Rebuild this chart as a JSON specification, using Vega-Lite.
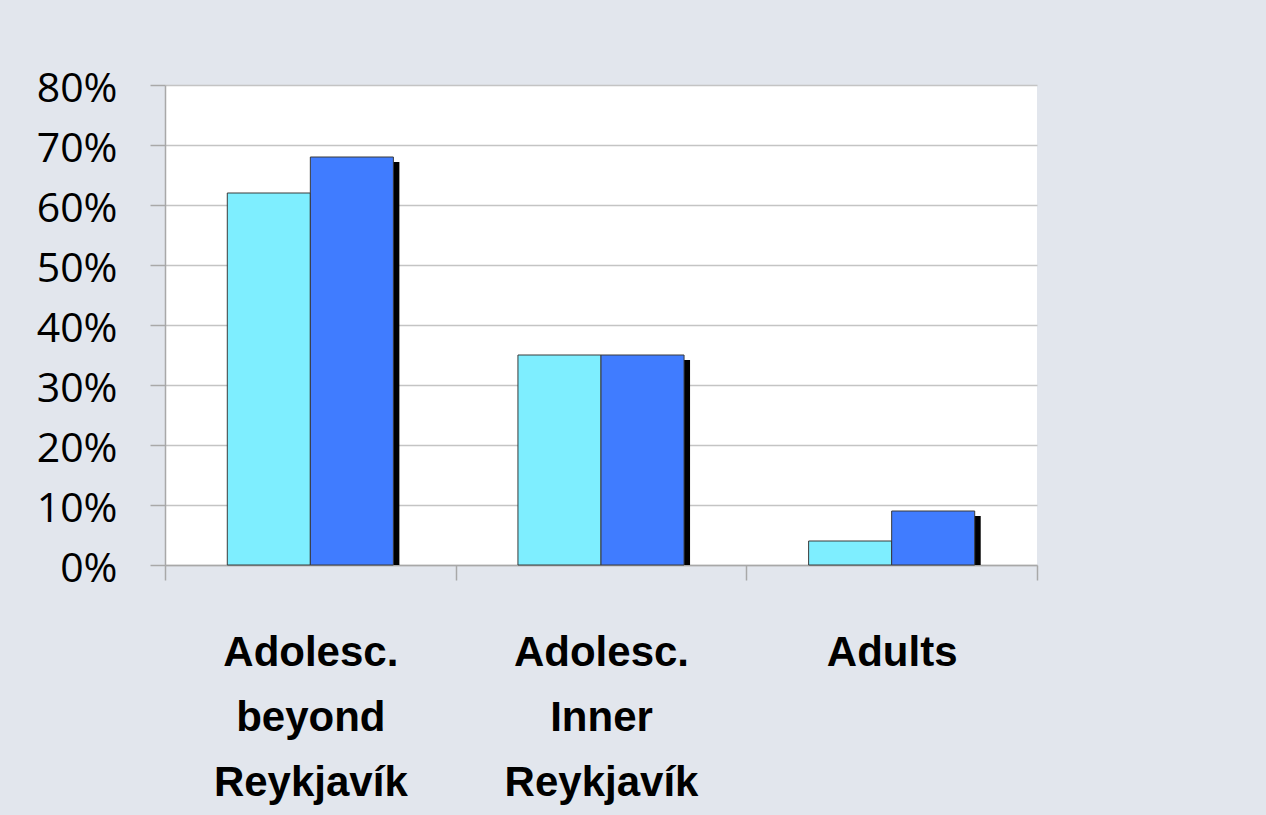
{
  "$schema": "https://vega.github.io/schema/vega-lite/v6.json",
  "width": 872,
  "height": 480,
  "autosize": "none",
  "padding": {"left": 165, "top": 85, "right": 229, "bottom": 250},
  "background": "#e2e6ed",
  "config": {"view": {"fill": "white", "stroke": null}},
  "data": {
    "values": [
      {"group": "Adolesc. beyond Reykjavík", "series": "Series 1", "value": 0.62},
      {"group": "Adolesc. beyond Reykjavík", "series": "Series 2", "value": 0.68},
      {"group": "Adolesc. Inner Reykjavík", "series": "Series 1", "value": 0.35},
      {"group": "Adolesc. Inner Reykjavík", "series": "Series 2", "value": 0.35},
      {"group": "Adults", "series": "Series 1", "value": 0.04},
      {"group": "Adults", "series": "Series 2", "value": 0.09}
    ]
  },
  "encoding": {
    "x": {
      "field": "group",
      "type": "nominal",
      "sort": ["Adolesc. beyond Reykjavík", "Adolesc. Inner Reykjavík", "Adults"],
      "scale": {"paddingInner": 0, "paddingOuter": 0},
      "axis": {
        "title": null,
        "grid": false,
        "domainColor": "#a8a8a8",
        "domainWidth": 1.5,
        "tickColor": "#a8a8a8",
        "tickWidth": 1.5,
        "tickSize": 15,
        "tickBand": "extent",
        "labelAngle": 0,
        "labelFont": "Liberation Sans",
        "labelFontWeight": "bold",
        "labelFontSize": 42,
        "labelColor": "black",
        "labelLineHeight": 65,
        "labelPadding": 52,
        "labelLimit": 0,
        "labelExpr": "isValid(datum.value) ? split(datum.value, ' ') : ''"
      }
    },
    "y": {
      "field": "value",
      "type": "quantitative",
      "scale": {"domain": [0, 0.8]},
      "axis": {
        "title": null,
        "values": [0, 0.1, 0.2, 0.3, 0.4, 0.5, 0.6, 0.7, 0.8],
        "format": ".0%",
        "grid": true,
        "gridColor": "#c4c4c4",
        "gridWidth": 1.5,
        "domainColor": "#a8a8a8",
        "domainWidth": 1.5,
        "tickColor": "#a8a8a8",
        "tickWidth": 1.5,
        "tickSize": 15,
        "labelFont": "Open Sans",
        "labelFontSize": 41,
        "labelColor": "black",
        "labelPadding": 33,
        "labelOffset": 4
      }
    }
  },
  "resolve": {"scale": {"xOffset": "independent"}},
  "layer": [
    {
      "mark": {"type": "bar", "color": "black", "yOffset": 5, "clip": true},
      "encoding": {
        "xOffset": {
          "field": "series",
          "type": "nominal",
          "scale": {"paddingInner": 0, "paddingOuter": 0.75, "range": [6, 296.667]}
        }
      }
    },
    {
      "mark": {"type": "bar", "stroke": "#3a3a3a", "strokeWidth": 1},
      "encoding": {
        "xOffset": {
          "field": "series",
          "type": "nominal",
          "scale": {"paddingInner": 0, "paddingOuter": 0.75}
        },
        "color": {
          "field": "series",
          "type": "nominal",
          "scale": {"range": ["#7eeeff", "#407cff"]},
          "legend": null
        }
      }
    }
  ]
}
